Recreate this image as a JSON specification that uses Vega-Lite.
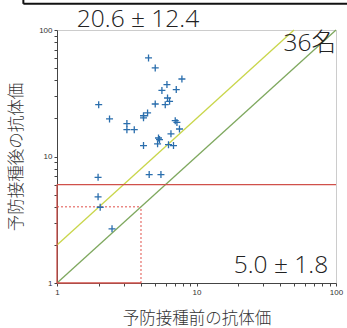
{
  "$schema": "https://vega.github.io/schema/vega-lite/v6.json",
  "width": 279,
  "height": 253,
  "autosize": {"type": "none"},
  "padding": {"left": 57, "top": 30, "right": 11, "bottom": 45},
  "background": "white",
  "config": {
    "view": {"stroke": "#cccccc", "strokeWidth": 1},
    "axis": {
      "grid": false,
      "domainColor": "#444444",
      "tickColor": "#444444",
      "tickSize": 3,
      "labelFontSize": 8,
      "labelColor": "#333333",
      "labelFont": "Liberation Sans",
      "labelPadding": 2,
      "labelOverlap": false,
      "labelFlush": false,
      "titleFont": "Noto Sans CJK JP",
      "titleFontSize": 16.5,
      "titleFontWeight": 300,
      "titleColor": "#333333"
    }
  },
  "datasets": {
    "points": [
      {"x": 4.53, "y": 60.1}, {"x": 5.06, "y": 50.1}, {"x": 7.86, "y": 41.0},
      {"x": 6.14, "y": 37.0}, {"x": 5.65, "y": 33.3}, {"x": 7.16, "y": 33.8},
      {"x": 6.20, "y": 29.0}, {"x": 6.41, "y": 27.3}, {"x": 5.97, "y": 25.7},
      {"x": 5.06, "y": 26.0}, {"x": 1.99, "y": 25.7}, {"x": 4.46, "y": 22.1},
      {"x": 4.17, "y": 21.0}, {"x": 4.17, "y": 20.2}, {"x": 2.38, "y": 19.8},
      {"x": 7.04, "y": 19.2}, {"x": 7.24, "y": 18.6}, {"x": 3.17, "y": 18.2},
      {"x": 3.17, "y": 16.3}, {"x": 3.58, "y": 16.3}, {"x": 7.55, "y": 16.5},
      {"x": 6.56, "y": 15.1}, {"x": 5.34, "y": 14.0}, {"x": 5.43, "y": 13.6},
      {"x": 5.26, "y": 12.6}, {"x": 4.17, "y": 12.2}, {"x": 6.30, "y": 12.4},
      {"x": 6.84, "y": 12.2}, {"x": 1.97, "y": 6.85}, {"x": 4.58, "y": 7.19},
      {"x": 5.56, "y": 7.19}, {"x": 1.97, "y": 4.80}, {"x": 2.04, "y": 3.97},
      {"x": 2.48, "y": 2.68}
    ],
    "segments": [
      {"kind": "yellow", "x": 1, "y": 2, "x2": 50, "y2": 100},
      {"kind": "green", "x": 1, "y": 1, "x2": 100, "y2": 100},
      {"kind": "red", "x": 1, "y": 6, "x2": 100, "y2": 6},
      {"kind": "red", "x": 1, "y": 1, "x2": 1, "y2": 6},
      {"kind": "red", "x": 1, "y": 1, "x2": 4, "y2": 1},
      {"kind": "reddot", "x": 1, "y": 4, "x2": 4, "y2": 4},
      {"kind": "reddot", "x": 4, "y": 1, "x2": 4, "y2": 4},
      {"kind": "frame", "x": 0.574, "y": 161, "x2": 120, "y2": 161},
      {"kind": "frame", "x": 0.574, "y": 161, "x2": 0.574, "y2": 175}
    ],
    "labels": [
      {"x": 10.45, "y": 106, "label": "20.6 ± 12.4"},
      {"x": 100, "y": 67.8, "label": "36名"},
      {"x": 87.8, "y": 1.21, "label": "5.0 ± 1.8"}
    ]
  },
  "encoding": {
    "x": {
      "field": "x",
      "type": "quantitative",
      "scale": {"type": "log", "domain": [1, 100], "nice": false},
      "axis": {
        "title": "予防接種前の抗体価",
        "titlePadding": 14,
        "values": [1, 2, 3, 4, 5, 6, 7, 8, 9, 10, 20, 30, 40, 50, 60, 70, 80, 90, 100],
        "labelExpr": "datum.value == 1 ? '1' : datum.value == 10 ? '10' : datum.value == 100 ? '100' : ''"
      }
    },
    "y": {
      "field": "y",
      "type": "quantitative",
      "scale": {"type": "log", "domain": [1, 100], "nice": false},
      "axis": {
        "title": "予防接種後の抗体価",
        "titlePadding": 14,
        "values": [1, 2, 3, 4, 5, 6, 7, 8, 9, 10, 20, 30, 40, 50, 60, 70, 80, 90, 100],
        "labelExpr": "datum.value == 1 ? '1' : datum.value == 10 ? '10' : datum.value == 100 ? '100' : ''"
      }
    }
  },
  "layer": [
    {
      "data": {"name": "segments"},
      "transform": [{"filter": "datum.kind == 'yellow'"}],
      "mark": {"type": "rule", "color": "#c9d64a", "strokeWidth": 1.3},
      "encoding": {"x2": {"field": "x2"}, "y2": {"field": "y2"}}
    },
    {
      "data": {"name": "segments"},
      "transform": [{"filter": "datum.kind == 'green'"}],
      "mark": {"type": "rule", "color": "#7ea85e", "strokeWidth": 1.3},
      "encoding": {"x2": {"field": "x2"}, "y2": {"field": "y2"}}
    },
    {
      "data": {"name": "segments"},
      "transform": [{"filter": "datum.kind == 'red'"}],
      "mark": {"type": "rule", "color": "#d0504a", "strokeWidth": 1.3},
      "encoding": {"x2": {"field": "x2"}, "y2": {"field": "y2"}}
    },
    {
      "data": {"name": "segments"},
      "transform": [{"filter": "datum.kind == 'reddot'"}],
      "mark": {"type": "rule", "color": "#e0504a", "strokeWidth": 1, "strokeDash": [2, 2]},
      "encoding": {"x2": {"field": "x2"}, "y2": {"field": "y2"}}
    },
    {
      "data": {"name": "segments"},
      "transform": [{"filter": "datum.kind == 'frame'"}],
      "mark": {"type": "rule", "color": "#111111", "strokeWidth": 2, "clip": false},
      "encoding": {"x2": {"field": "x2"}, "y2": {"field": "y2"}}
    },
    {
      "data": {"name": "points"},
      "mark": {"type": "point", "shape": "M-1,0H1M0,-1V1", "filled": false, "size": 49, "strokeWidth": 1.3, "color": "#2a6ead", "opacity": 1}
    },
    {
      "data": {"name": "labels"},
      "mark": {"type": "text", "align": "right", "baseline": "alphabetic", "font": "'Open Sans', 'Noto Sans CJK JP'", "fontWeight": 300, "fontSize": 24.5, "color": "#222222", "clip": false},
      "encoding": {"text": {"field": "label"}}
    }
  ]
}
